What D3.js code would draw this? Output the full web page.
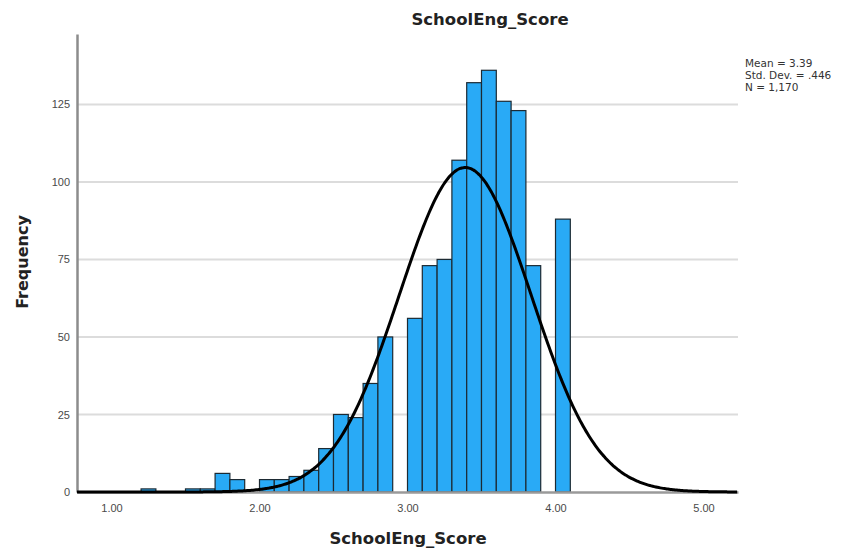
<!DOCTYPE html>
<html>
<head>
<meta charset="utf-8">
<script src="https://cdn.jsdelivr.net/npm/d3@7"></script>
<style>
  html, body { margin: 0; padding: 0; background: #fff; }
  svg { display: block; font-family: "DejaVu Sans", sans-serif; }
</style>
</head>
<body>
<svg id="chart" width="850" height="555"></svg>
<script>
// Histogram of SchoolEng_Score, bins of width 0.1 (lower edge listed)
const binStarts = [1.2, 1.5, 1.6, 1.7, 1.8, 2.0, 2.1, 2.2, 2.3, 2.4, 2.5, 2.6, 2.7, 2.8,
                   3.0, 3.1, 3.2, 3.3, 3.4, 3.5, 3.6, 3.7, 3.8, 4.0];
const counts    = [1, 1, 1, 6, 4, 4, 4, 5, 7, 14, 25, 24, 35, 50,
                   56, 73, 75, 107, 132, 136, 126, 123, 73, 88];
const binWidth = 0.1;

const xTicks = [1, 2, 3, 4, 5];
const yTicks = [0, 25, 50, 75, 100, 125];

const stats = { mean: 3.39, sd: 0.446, n: 1170 };
const statLines = ["Mean = 3.39", "Std. Dev. = .446", "N = 1,170"];

const svg = d3.select("#chart");
const plotLeft = 77, plotRight = 738, plotTop = 34, plotBottom = 492;

const x = d3.scaleLinear().domain([0.767, 5.233]).range([plotLeft, plotRight]);
const y = d3.scaleLinear().domain([0, 147.7]).range([plotBottom, plotTop]);

// horizontal grid lines
svg.append("g").selectAll("line")
  .data(yTicks.filter(d => d > 0))
  .join("line")
  .attr("x1", plotLeft).attr("x2", plotRight)
  .attr("y1", d => y(d)).attr("y2", d => y(d))
  .attr("stroke", "#dcdcdc").attr("stroke-width", 2);

// bars
const bins = binStarts.map((s, i) => ({ x0: s, x1: s + binWidth, count: counts[i] }));
svg.append("g").selectAll("rect")
  .data(bins)
  .join("rect")
  .attr("x", d => x(d.x0))
  .attr("width", d => x(d.x1) - x(d.x0))
  .attr("y", d => y(d.count))
  .attr("height", d => y(0) - y(d.count))
  .attr("fill", "#29aaf6")
  .attr("stroke", "#1c2a33")
  .attr("stroke-width", 1.2);

// axes
const yAxis = d3.axisLeft(y).tickValues(yTicks).tickSize(0).tickPadding(7);
const gy = svg.append("g").attr("transform", `translate(${plotLeft},0)`).call(yAxis);
gy.select(".domain").attr("stroke", "#8c8c8c").attr("stroke-width", 2.5);
gy.selectAll("text").attr("font-size", 11).attr("fill", "#4a4a4a");

const xAxis = d3.axisBottom(x).tickValues(xTicks).tickFormat(d3.format(".2f")).tickSize(0).tickPadding(12);
const gx = svg.append("g").attr("transform", `translate(0,${plotBottom})`).call(xAxis);
gx.select(".domain").attr("stroke", "#9a9a9a").attr("stroke-width", 2.5);
gx.selectAll("text").attr("font-size", 11).attr("fill", "#4a4a4a");

// fitted normal curve scaled to counts per bin
const pts = d3.range(0.767, 5.2331, 0.01).map(v => {
  const z = (v - stats.mean) / stats.sd;
  return [v, stats.n * binWidth / (stats.sd * Math.sqrt(2 * Math.PI)) * Math.exp(-0.5 * z * z)];
});
svg.append("path")
  .datum(pts)
  .attr("fill", "none")
  .attr("stroke", "#000")
  .attr("stroke-width", 3)
  .attr("d", d3.line().x(d => x(d[0])).y(d => y(d[1])).curve(d3.curveBasis));

// titles
svg.append("text").attr("x", 490).attr("y", 25).attr("text-anchor", "middle")
  .attr("font-size", 16.5).attr("font-weight", "bold").attr("fill", "#222")
  .text("SchoolEng_Score");
svg.append("text").attr("x", 408).attr("y", 544).attr("text-anchor", "middle")
  .attr("font-size", 16.5).attr("font-weight", "bold").attr("fill", "#222")
  .text("SchoolEng_Score");
svg.append("text").attr("transform", "translate(28,262) rotate(-90)").attr("text-anchor", "middle")
  .attr("font-size", 16).attr("font-weight", "bold").attr("fill", "#222")
  .text("Frequency");

// summary statistics
svg.append("g").selectAll("text")
  .data(statLines)
  .join("text")
  .attr("x", 745)
  .attr("y", (d, i) => 67 + i * 12)
  .attr("font-size", 10.5)
  .attr("fill", "#333")
  .text(d => d);
</script>
</body>
</html>
